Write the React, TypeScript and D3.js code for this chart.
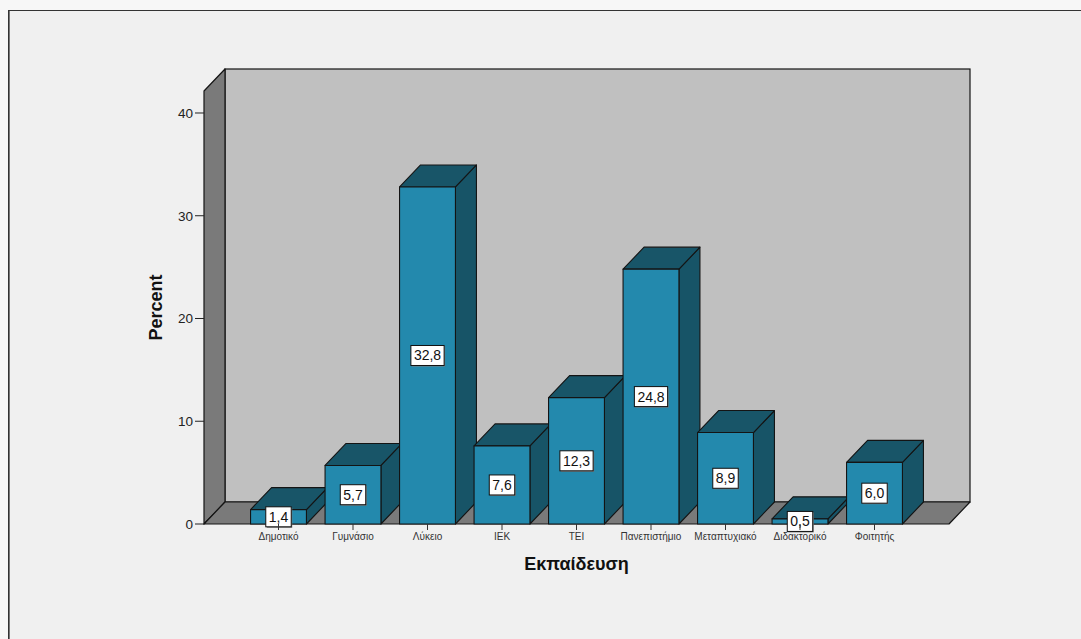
import React from "react";
import * as d3 from "d3";

// Education level distribution (percent of respondents)
const categories: string[] = [
  "Δημοτικό",
  "Γυμνάσιο",
  "Λύκειο",
  "ΙΕΚ",
  "ΤΕΙ",
  "Πανεπιστήμιο",
  "Μεταπτυχιακό",
  "Διδακτορικό",
  "Φοιτητής",
];
const percents: number[] = [1.4, 5.7, 32.8, 7.6, 12.3, 24.8, 8.9, 0.5, 6.0];
const yTicks: number[] = [0, 10, 20, 30, 40];
const yMax = 42.14;
const xTitle = "Εκπαίδευση";
const yTitle = "Percent";

const W = 1081;
const H = 639;
const FONT = "'Liberation Sans', Arial, Helvetica, sans-serif";

// plot box (front plane) and 3D depth offset
const left = 204;
const right = 949;
const bottom = 524;
const top = 91;
const DX = 21;
const DY = 22;

const COLORS = {
  page: "#f7f7f7",
  panel: "#f0f0f0",
  backWall: "#c0c0c0",
  sideWall: "#7a7a7a",
  barFront: "#2389ad",
  barTop: "#185568",
  barSide: "#175467",
  edge: "#141414",
};

const locale = d3.formatLocale({
  decimal: ",",
  thousands: ".",
  grouping: [3],
  currency: ["", "€"],
});
const fmt = locale.format(".1f");

const LABEL_SIZE = 14;
function labelWidth(s: string): number {
  let w = 0;
  for (const ch of s) w += (ch === "," ? 0.278 : 0.556) * LABEL_SIZE;
  return w;
}

export default function App() {
  const x = d3.scalePoint<string>().domain(categories).range([left, right]).padding(1);
  const y = d3.scaleLinear().domain([0, yMax]).range([bottom, top]);
  const half = x.step() * 0.375;

  const pts = (arr: [number, number][]) => arr.map((p) => p.join(",")).join(" ");

  return (
    <div style={{ position: "fixed", left: 0, top: 0, width: W, height: H }}>
      <svg width={W} height={H} style={{ display: "block", fontFamily: FONT }}>
        <rect x={0} y={0} width={W} height={H} fill={COLORS.page} />
        {/* chart frame */}
        <rect x={8.5} y={10.5} width={W + 20} height={H + 20} fill={COLORS.panel} stroke="#333" strokeWidth={1} />
        <line x1={9.5} y1={11} x2={9.5} y2={H} stroke="#777" strokeWidth={1} />

        {/* back wall */}
        <rect
          x={left + DX}
          y={top - DY}
          width={right - left}
          height={bottom - top}
          fill={COLORS.backWall}
          stroke={COLORS.edge}
          strokeWidth={1.2}
        />
        {/* left wall */}
        <polygon
          points={pts([
            [left, top],
            [left + DX, top - DY],
            [left + DX, bottom - DY],
            [left, bottom],
          ])}
          fill={COLORS.sideWall}
          stroke={COLORS.edge}
          strokeWidth={1.2}
          strokeLinejoin="round"
        />
        {/* floor */}
        <polygon
          points={pts([
            [left, bottom],
            [left + DX, bottom - DY],
            [right + DX, bottom - DY],
            [right, bottom],
          ])}
          fill={COLORS.sideWall}
          stroke={COLORS.edge}
          strokeWidth={1.2}
          strokeLinejoin="round"
        />

        {/* bars */}
        {categories.map((c, i) => {
          const cx = x(c) as number;
          const x0 = cx - half;
          const x1 = cx + half;
          const yt = y(percents[i]);
          return (
            <g key={c} stroke={COLORS.edge} strokeWidth={1.1} strokeLinejoin="round">
              <polygon
                points={pts([
                  [x1, yt],
                  [x1 + DX, yt - DY],
                  [x1 + DX, bottom - DY],
                  [x1, bottom],
                ])}
                fill={COLORS.barSide}
              />
              <polygon
                points={pts([
                  [x0, yt],
                  [x0 + DX, yt - DY],
                  [x1 + DX, yt - DY],
                  [x1, yt],
                ])}
                fill={COLORS.barTop}
              />
              <rect x={x0} y={yt} width={x1 - x0} height={bottom - yt} fill={COLORS.barFront} />
            </g>
          );
        })}

        {/* value labels */}
        {categories.map((c, i) => {
          const cx = x(c) as number;
          const yt = y(percents[i]);
          const cy = (yt + bottom) / 2;
          const s = fmt(percents[i]);
          const bw = labelWidth(s) + 6;
          const bh = 20;
          return (
            <g key={"l" + c}>
              <rect x={cx - bw / 2 + 1} y={cy - bh / 2 + 1} width={bw} height={bh} fill="#7d7d7d" />
              <rect x={cx - bw / 2} y={cy - bh / 2} width={bw} height={bh} fill="#ffffff" stroke="#111" strokeWidth={1} />
              <text x={cx} y={cy + 5} textAnchor="middle" fontSize={LABEL_SIZE} fill="#111">
                {s}
              </text>
            </g>
          );
        })}

        {/* y axis */}
        {yTicks.map((t) => (
          <g key={"y" + t}>
            <line x1={left - 9} x2={left} y1={y(t)} y2={y(t)} stroke="#222" strokeWidth={1} />
            <text x={left - 11} y={y(t) + 4.8} textAnchor="end" fontSize={13.5} fill="#222">
              {t}
            </text>
          </g>
        ))}

        {/* x axis */}
        {categories.map((c) => (
          <g key={"x" + c}>
            <line x1={x(c)} x2={x(c)} y1={bottom} y2={bottom + 6} stroke="#333" strokeWidth={1} />
            <text x={x(c)} y={bottom + 16} textAnchor="middle" fontSize={10} fill="#333">
              {c}
            </text>
          </g>
        ))}

        {/* axis titles */}
        <text
          x={(left + right) / 2}
          y={570}
          textAnchor="middle"
          fontSize={18}
          fontWeight="bold"
          fill="#111"
        >
          {xTitle}
        </text>
        <text
          transform={`translate(162,${(top + bottom) / 2}) rotate(-90)`}
          textAnchor="middle"
          fontSize={18}
          fontWeight="bold"
          fill="#111"
        >
          {yTitle}
        </text>
      </svg>
    </div>
  );
}
